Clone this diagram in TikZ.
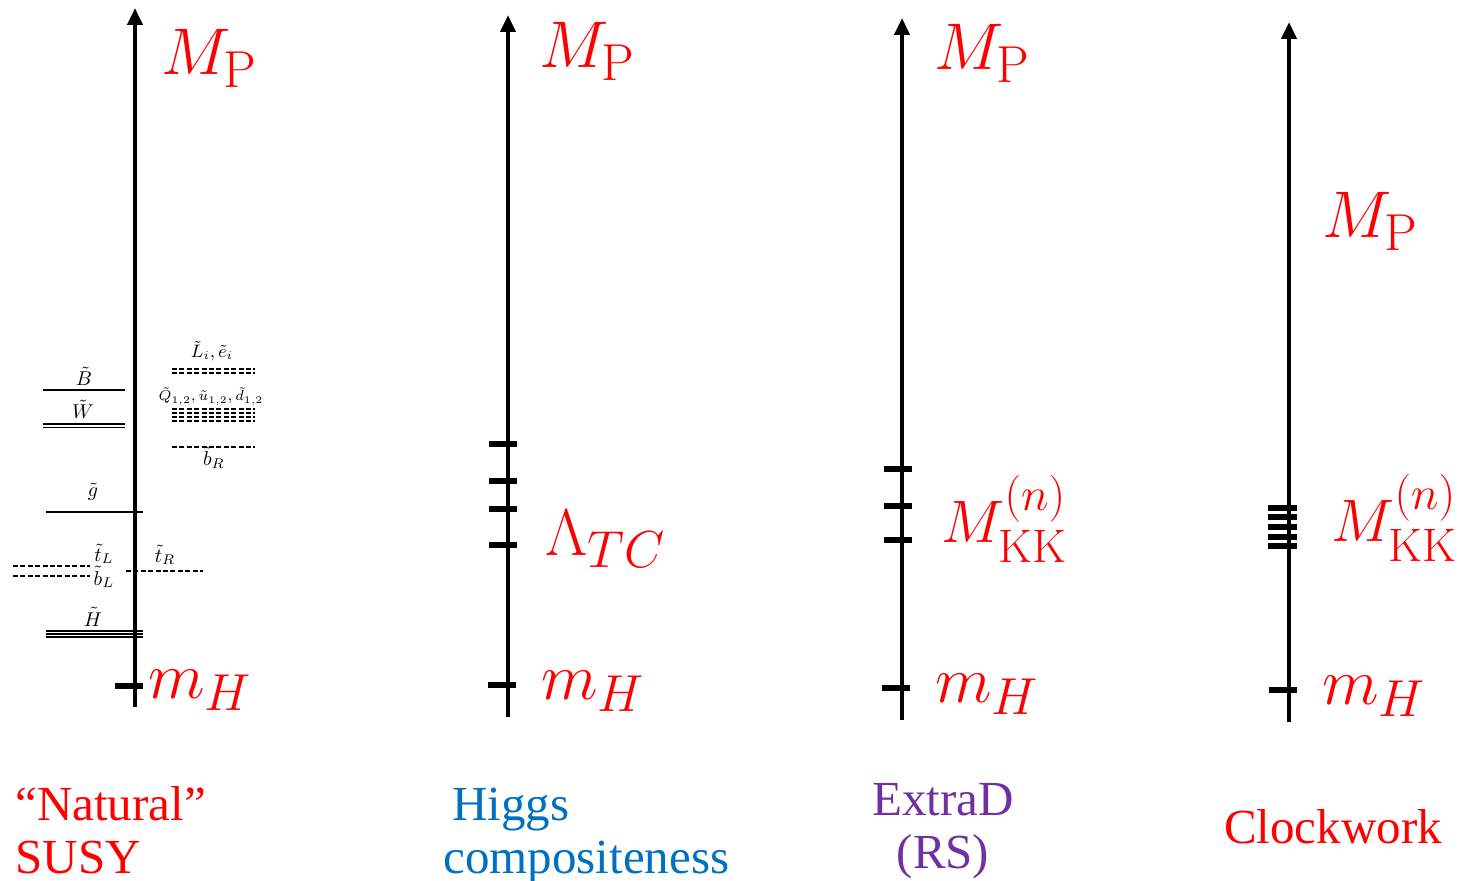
\RequirePackage{fix-cm}
\documentclass[tikz,border=0pt]{standalone}
\usepackage{amsmath}
\usepackage{fontspec}
\usepackage{tikz}
\usetikzlibrary{arrows.meta}

\newfontfamily\namefont{Liberation Serif}
\DeclareMathSizes{33}{33}{26}{20}
\DeclareMathSizes{30}{30}{23.5}{18}
\definecolor{scalered}{RGB}{255,0,0}
\definecolor{higgsblue}{RGB}{0,112,192}
\definecolor{rspurple}{RGB}{112,48,160}

\tikzset{
  scaleaxis/.style={line width=2.2pt, -{Triangle[length=8.5pt,width=7.5pt]}},
  scaletick/.style={line width=2.6pt},
  scalelabel/.style={text=scalered, inner sep=0pt, font=\fontsize{33}{38}\selectfont},
  kklabel/.style={text=scalered, inner sep=0pt, font=\fontsize{30}{34}\selectfont},
  modelname/.style={inner sep=0pt, font=\namefont\fontsize{24.5}{26.5}\selectfont},
  fermionline/.style={line width=0.6pt},
  scalarline/.style={line width=0.6pt, dash pattern=on 2.5pt off 1.2pt},
  sparticle/.style={inner sep=0pt, font=\fontsize{10}{12}\selectfont},
}

\begin{document}
\begin{tikzpicture}[x=0.5pt,y=-0.5pt]

\useasboundingbox (0,0) rectangle (1461,881);

% vertical axes
\coordinate (susy low) at (135,707);
\coordinate (susy high) at (135,8);
\coordinate (tc low) at (508,717);
\coordinate (tc high) at (508,15);
\coordinate (rs low) at (902,720);
\coordinate (rs high) at (902,18);
\coordinate (cw low) at (1289,722);
\coordinate (cw high) at (1289,22);

\draw [scaleaxis] (susy low) -- (susy high);
\draw [scaleaxis] (tc low) -- (tc high);
\draw [scaleaxis] (rs low) -- (rs high);
\draw [scaleaxis] (cw low) -- (cw high);

% Planck scale
\node [scalelabel, anchor=base west] (mp susy) at (161,75) {$M_{\mathrm{P}}$};
\node [scalelabel, anchor=base west] (mp tc) at (539,68) {$M_{\mathrm{P}}$};
\node [scalelabel, anchor=base west] (mp rs) at (934,70) {$M_{\mathrm{P}}$};
\node [scalelabel, anchor=base west] (mp cw) at (1322,238) {$M_{\mathrm{P}}$};

% Higgs mass
\draw [scaletick] (115,686) -- (143,686);
\draw [scaletick] (488,685) -- (516,685);
\draw [scaletick] (882,688) -- (910,688);
\draw [scaletick] (1269,690) -- (1297,690);

\node [scalelabel, anchor=base west] (mh susy) at (148,698) {$m_H$};
\node [scalelabel, anchor=base west] (mh tc) at (541,699) {$m_H$};
\node [scalelabel, anchor=base west] (mh rs) at (935,702) {$m_H$};
\node [scalelabel, anchor=base west] (mh cw) at (1322,704) {$m_H$};

% composite resonances
\draw [scaletick] (489,444) -- (517,444);
\draw [scaletick] (489,481) -- (517,481);
\draw [scaletick] (489,509) -- (517,509);
\draw [scaletick] (489,545) -- (517,545);
\node [scalelabel, anchor=base west] (lambda tc) at (545,555) {$\Lambda_{TC}$};

% KK tower
\draw [scaletick] (884,469) -- (912,469);
\draw [scaletick] (884,506) -- (912,506);
\draw [scaletick] (884,540) -- (912,540);
\node [kklabel, anchor=base west] (kk rs) at (941,543) {$M_{\mathrm{KK}}^{(n)}$};

% clockwork gears
\draw [scaletick] (1268,508) -- (1297,508);
\draw [scaletick] (1268,517) -- (1297,517);
\draw [scaletick] (1268,527) -- (1297,527);
\draw [scaletick] (1268,537) -- (1297,537);
\draw [scaletick] (1268,546) -- (1297,546);
\node [kklabel, anchor=base west] (kk cw) at (1331,542) {$M_{\mathrm{KK}}^{(n)}$};

% superpartners, left of the axis
\draw [fermionline] (43,390) -- (125,390);
\node [sparticle, anchor=base] (bino) at (84,386) {$\tilde B$};

\draw [fermionline] (43,424) -- (125,424);
\draw [fermionline] (43,427.5) -- (125,427.5);
\node [sparticle, anchor=base] (wino) at (83,419) {$\tilde W$};

\draw [fermionline] (46,512) -- (143,512);
\node [sparticle, anchor=base] (gluino) at (93,497) {$\tilde g$};

\draw [scalarline] (13,566) -- (90,566);
\draw [scalarline] (13,576) -- (90,576);
\node [sparticle, anchor=base] (stop l) at (104,561) {$\tilde t_L$};
\node [sparticle, anchor=base] (sbot l) at (104,585) {$\tilde b_L$};

\draw [fermionline] (46,631) -- (143,631);
\draw [fermionline] (46,634) -- (143,634);
\draw [fermionline] (46,637) -- (143,637);
\node [sparticle, anchor=base] (higgsino) at (93,626) {$\tilde H$};

% superpartners, right of the axis
\draw [scalarline] (126,571) -- (203,571);
\node [sparticle, anchor=base] (stop r) at (165,562) {$\tilde t_R$};

\draw [scalarline] (172,369) -- (255,369);
\draw [scalarline] (172,373) -- (255,373);
\node [sparticle, anchor=base, font=\fontsize{9}{11}\selectfont] (sleptons) at (212,358) {$\tilde L_i,\tilde e_i$};

\draw [scalarline] (172,409) -- (255,409);
\draw [scalarline] (172,413) -- (255,413);
\draw [scalarline] (172,417) -- (255,417);
\draw [scalarline] (172,421) -- (255,421);
\node [sparticle, anchor=base, font=\fontsize{7.2}{9}\selectfont] (squarks) at (211,401) {$\tilde Q_{1,2},\tilde u_{1,2},\tilde d_{1,2}$};

\draw [scalarline] (172,447) -- (255,447);
\node [sparticle, anchor=base] (sbot r) at (214,466) {$\tilde b_R$};

% model names
\node [modelname, text=scalered, anchor=base west, align=left] (susy name) at (15,873) {“Natural”\\SUSY};
\node [modelname, text=higgsblue, anchor=base west] (tc name) at (452,820) {Higgs};
\node [modelname, text=higgsblue, anchor=base west] (tc name2) at (443,873) {compositeness};
\node [modelname, text=rspurple, anchor=base, align=center] (rs name) at (943,868) {ExtraD\\(RS)};
\node [modelname, text=scalered, anchor=base] (cw name) at (1333,843) {Clockwork};

\end{tikzpicture}
\end{document}
